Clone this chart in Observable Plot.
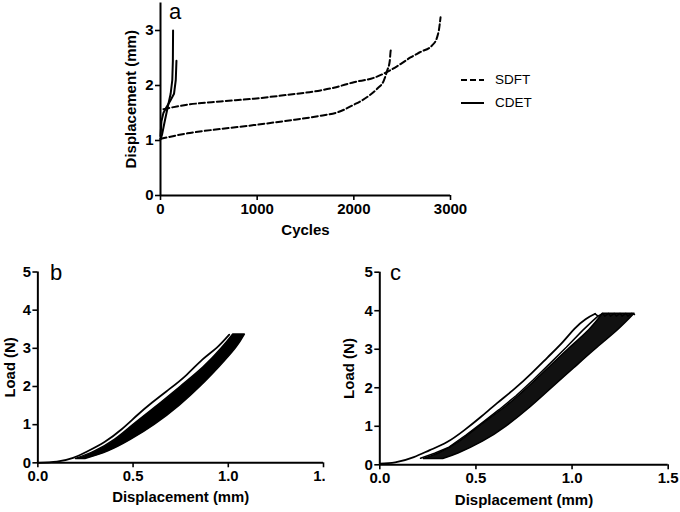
<!DOCTYPE html>
<html>
<head>
<meta charset="utf-8">
<script src="https://cdn.jsdelivr.net/npm/d3@7"></script>
<script src="https://cdn.jsdelivr.net/npm/@observablehq/plot@0.6"></script>
<style>
  body { margin: 0; background: white; }
  #wrap { position: relative; width: 680px; height: 512px; font-family: "Liberation Sans", Arial, sans-serif; color: black; overflow: hidden; }
  .panel { position: absolute; overflow: hidden; }
  .letter { position: absolute; font-size: 22px; line-height: 24px; }
  .leg { position: absolute; font-size: 13.5px; line-height: 16px; display: flex; align-items: center; }
  .leg svg { margin-right: 11px; }
</style>
</head>
<body>
<div id="wrap">
  <div class="panel" id="pa" style="left:0;top:0"></div>
  <div class="panel" id="pb" style="left:0;top:250px;width:325px;height:262px"></div>
  <div class="panel" id="pc" style="left:340px;top:250px"></div>
  <div class="letter" style="left:169px;top:0px">a</div>
  <div class="letter" style="left:50px;top:261px">b</div>
  <div class="letter" style="left:390px;top:261px">c</div>
  <div class="leg" style="left:461px;top:72px"><svg width="23" height="4"><line x1="0" y1="2" x2="23" y2="2" stroke="black" stroke-width="2" stroke-dasharray="6,3"/></svg>SDFT</div>
  <div class="leg" style="left:461px;top:95px"><svg width="23" height="4"><line x1="0" y1="2" x2="23" y2="2" stroke="black" stroke-width="2"/></svg>CDET</div>
</div>
<script>
// ---------- Panel a: displacement vs cycles ----------
const aXTicks = [0, 1000, 2000, 3000];
const aYTicks = [0, 1, 2, 3];
const sdft1Cycles = [0, 276, 621, 966, 1310, 1655, 1828, 2000, 2138, 2241, 2310, 2345, 2372, 2379, 2385];
const sdft1Disp   = [1.03, 1.13, 1.21, 1.28, 1.36, 1.45, 1.51, 1.65, 1.79, 1.94, 2.09, 2.27, 2.45, 2.60, 2.67];
const sdft2Cycles = [30, 276, 621, 966, 1310, 1655, 1793, 2000, 2207, 2379, 2483, 2586, 2690, 2810, 2862, 2879, 2897];
const sdft2Disp   = [1.57, 1.65, 1.71, 1.76, 1.83, 1.91, 1.96, 2.06, 2.14, 2.28, 2.39, 2.51, 2.61, 2.73, 2.88, 3.00, 3.24];
const cdet1Cycles = [0, 15, 45, 80, 105, 122, 128, 130];
const cdet1Disp   = [1.02, 1.10, 1.36, 1.65, 1.85, 2.10, 2.45, 3.00];
const cdet2Cycles = [0, 10, 30, 60, 100, 140, 158, 165];
const cdet2Disp   = [1.08, 1.35, 1.50, 1.60, 1.72, 1.85, 2.10, 2.45];

// ---------- Panel b: load vs displacement ----------
const bcXTicks = [0, 0.5, 1.0, 1.5];
const bcYTicks = [0, 1, 2, 3, 4, 5];
const bLoadDisp = [0, 0.10, 0.185, 0.26, 0.35, 0.44, 0.52, 0.60, 0.69, 0.78, 0.865, 0.94, 1.005];
const bLoadLoad = [0, 0.03, 0.13, 0.30, 0.545, 0.88, 1.24, 1.58, 1.93, 2.30, 2.71, 3.02, 3.36];
const bBandLoad  = [0.10, 0.30, 0.60, 1.00, 1.50, 2.00, 2.50, 3.00, 3.36];
const bBandLeft  = [0.20, 0.30, 0.404, 0.504, 0.63, 0.752, 0.87, 0.966, 1.025];
const bBandRight = [0.25, 0.37, 0.488, 0.615, 0.745, 0.855, 0.952, 1.04, 1.087];

// ---------- Panel c ----------
const cLoadDisp = [0, 0.08, 0.177, 0.26, 0.35, 0.44, 0.525, 0.61, 0.70, 0.79, 0.873, 0.95, 1.012, 1.07, 1.12];
const cLoadLoad = [0.03, 0.06, 0.20, 0.38, 0.59, 0.90, 1.24, 1.60, 1.97, 2.38, 2.79, 3.18, 3.53, 3.78, 3.92];
const cUnDisp = [1.12, 1.135, 1.11, 1.055, 0.97, 0.883, 0.797, 0.71, 0.62, 0.535, 0.45, 0.36, 0.285, 0.212];
const cUnLoad = [3.92, 3.86, 3.75, 3.49, 3.05, 2.62, 2.20, 1.80, 1.43, 1.10, 0.78, 0.46, 0.30, 0.17];
const cBandLoad  = [0.15, 0.30, 0.60, 1.00, 1.50, 2.00, 2.50, 3.00, 3.50, 3.92];
const cBandLeft  = [0.23, 0.31, 0.416, 0.52, 0.654, 0.77, 0.876, 0.982, 1.09, 1.16];
const cBandRight = [0.33, 0.412, 0.536, 0.66, 0.786, 0.898, 1.01, 1.123, 1.24, 1.325];
const cPeakDisp = [1.135, 1.16, 1.17, 1.19, 1.20, 1.22, 1.23, 1.25, 1.26, 1.28, 1.29, 1.31, 1.325];
const cPeakLoad = [3.86, 3.93, 3.86, 3.93, 3.86, 3.93, 3.86, 3.93, 3.86, 3.93, 3.86, 3.93, 3.90];

const pts = (xs, ys) => xs.map((x, i) => ({x, y: ys[i]}));
const band = (ys, l, r) => ys.map((y, i) => ({y, l: l[i], r: r[i]}));

const FONT = '"Liberation Sans", Arial, sans-serif';
const baseStyle = {fontFamily: FONT, fontSize: "15px", fontWeight: "bold", color: "black", background: "white", overflow: "hidden"};

function axes(xTicks, yTicks, xFmt, yFmt, xLabel, yLabel, xOff, yOff) {
  return [
    Plot.axisX({ticks: xTicks, tickFormat: xFmt, tickSize: 5, tickPadding: 3, strokeWidth: 1.6,
      label: xLabel, labelAnchor: "center", labelArrow: "none", labelOffset: xOff, fontSize: 15}),
    Plot.axisY({ticks: yTicks, tickFormat: yFmt, tickSize: 5, tickPadding: 2, strokeWidth: 1.6,
      label: yLabel, labelAnchor: "center", labelArrow: "none", labelOffset: yOff, fontSize: 15}),
    Plot.ruleY([0], {strokeWidth: 2}),
    Plot.ruleX([0], {strokeWidth: 2})
  ];
}

// Panel a
const pa = Plot.plot({
  width: 470, height: 240,
  marginLeft: 160, marginRight: 20, marginTop: 2.5, marginBottom: 45,
  x: {domain: [0, 3000]},
  y: {domain: [0, 3.5]},
  style: baseStyle,
  marks: [
    ...axes(aXTicks, aYTicks, d3.format("d"), d3.format("d"), "Cycles", "Displacement (mm)", 39, 35),
    Plot.line(pts(sdft1Cycles, sdft1Disp), {x: "x", y: "y", strokeWidth: 2, strokeDasharray: "6,3", curve: "monotone-x"}),
    Plot.line(pts(sdft2Cycles, sdft2Disp), {x: "x", y: "y", strokeWidth: 2, strokeDasharray: "6,3", curve: "monotone-x"}),
    Plot.line(pts(cdet1Cycles, cdet1Disp), {x: "x", y: "y", strokeWidth: 2}),
    Plot.line(pts(cdet2Cycles, cdet2Disp), {x: "x", y: "y", strokeWidth: 2})
  ]
});
document.getElementById("pa").append(pa);

// Panel b
const pb = Plot.plot({
  width: 328, height: 262,
  marginLeft: 37.7, marginRight: 2, marginTop: 21.7, marginBottom: 47.7,
  x: {domain: [0, 1.5]},
  y: {domain: [0, 5]},
  style: baseStyle,
  marks: [
    ...axes(bcXTicks, bcYTicks, d3.format(".1f"), d3.format("d"), "Displacement (mm)", "Load (N)", 40, 34),
    Plot.areaX(band(bBandLoad, bBandLeft, bBandRight), {y: "y", x1: "l", x2: "r", fill: "black", stroke: "black", strokeWidth: 1.5, curve: "natural"}),
    Plot.line(pts(bLoadDisp, bLoadLoad), {x: "x", y: "y", strokeWidth: 1.8, curve: "natural"})
  ]
});
document.getElementById("pb").append(pb);

// Panel c
const pc = Plot.plot({
  width: 340, height: 262,
  marginLeft: 39.3, marginRight: 12.3, marginTop: 21.7, marginBottom: 47.7,
  x: {domain: [0, 1.5]},
  y: {domain: [0, 5]},
  style: baseStyle,
  marks: [
    ...axes(bcXTicks, bcYTicks, d3.format(".1f"), d3.format("d"), "Displacement (mm)", "Load (N)", 40, 36),
    Plot.areaX(band(cBandLoad, cBandLeft, cBandRight), {y: "y", x1: "l", x2: "r", fill: "#111", stroke: "black", strokeWidth: 1.5, curve: "natural"}),
    Plot.line(pts(cPeakDisp, cPeakLoad), {x: "x", y: "y", strokeWidth: 1.5}),
    Plot.line(pts(cUnDisp, cUnLoad), {x: "x", y: "y", strokeWidth: 1.5}),
    Plot.line(pts(cLoadDisp, cLoadLoad), {x: "x", y: "y", strokeWidth: 1.8, curve: "natural"})
  ]
});
document.getElementById("pc").append(pc);
</script>
</body>
</html>
